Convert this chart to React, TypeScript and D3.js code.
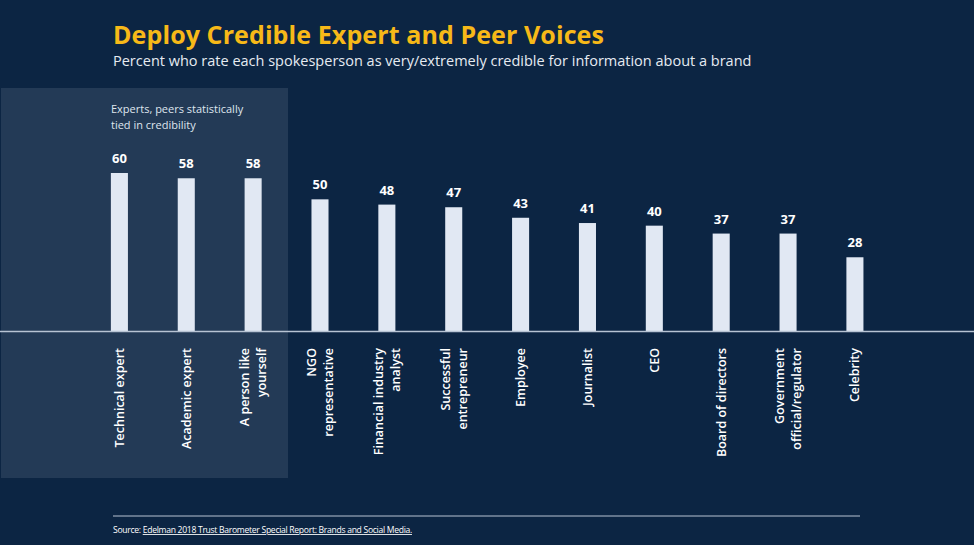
import React from "react";
import * as d3 from "d3";

const categories: string[][] = [
  ["Technical expert"],
  ["Academic expert"],
  ["A person like", "yourself"],
  ["NGO", "representative"],
  ["Financial industry", "analyst"],
  ["Successful", "entrepreneur"],
  ["Employee"],
  ["Journalist"],
  ["CEO"],
  ["Board of directors"],
  ["Government", "official/regulator"],
  ["Celebrity"],
];
const values: number[] = [60, 58, 58, 50, 48, 47, 43, 41, 40, 37, 37, 28];
const title = "Deploy Credible Expert and Peer Voices";
const subtitle = "Percent who rate each spokesperson as very/extremely credible for information about a brand";
const note = ["Experts, peers statistically", "tied in credibility"];
const sourceLabel = "Source: ";
const sourceLink = "Edelman 2018 Trust Barometer Special Report: Brands and Social Media.";

const W = 974;
const H = 545;
const FONT = "'Open Sans', 'Noto Sans', sans-serif";

export default function App() {
  const base = 331;
  const x = d3
    .scaleBand<number>()
    .domain(d3.range(values.length))
    .range([86, 86 + 66.86 * values.length])
    .paddingInner(0.745)
    .paddingOuter(0.372);
  const y = d3.scaleLinear().domain([0, 60]).range([base, 173]);
  const bw = x.bandwidth();

  return (
    <svg
      width={W}
      height={H}
      style={{ position: "absolute", left: 0, top: 0, fontFamily: FONT }}
    >
      <rect x={0} y={0} width={W} height={H} fill="#0c2543" />
      <rect x={1} y={88} width={287} height={390} fill="#233a56" />
      <text x={113} y={44} fill="#f7b918" fontSize={25} fontWeight={700} style={{ letterSpacing: "0.1px" }}>
        {title}
      </text>
      <text x={113} y={66} fill="#e6ebf2" fontSize={14.5}>
        {subtitle}
      </text>
      {note.map((t, i) => (
        <text key={i} x={111} y={113 + i * 16} fill="#dfe5ee" fontSize={11}>
          {t}
        </text>
      ))}
      {values.map((v, i) => {
        const cx = (x(i) as number) + bw / 2;
        const lines = categories[i];
        return (
          <g key={i}>
            <rect
              x={x(i)}
              y={y(v)}
              width={bw}
              height={base - y(v)}
              fill="#e1e8f3"
            />
            <text
              x={cx}
              y={y(v) - 10}
              textAnchor="middle"
              fill="#ffffff"
              fontSize={13}
              fontWeight={700}
            >
              {v}
            </text>
            <g transform={`translate(${cx},348) rotate(-90)`}>
              {lines.map((t, j) => (
                <text
                  key={j}
                  x={0}
                  y={(j - (lines.length - 1) / 2) * 17 + 4.5}
                  textAnchor="end"
                  fill="#ffffff"
                  fontSize={12.5}
                  fontWeight={600}
                >
                  {t}
                </text>
              ))}
            </g>
          </g>
        );
      })}
      <line x1={0} x2={W} y1={base + 0.5} y2={base + 0.5} stroke="#b7c3d3" strokeWidth={1.5} />
      <line x1={113} x2={860} y1={516} y2={516} stroke="#b7c3d3" strokeWidth={1} />
      <text x={113} y={533} fill="#ffffff" fontSize={8.6} style={{ letterSpacing: "-0.3px" }}>
        {sourceLabel}
        <tspan textDecoration="underline">{sourceLink}</tspan>
      </text>
    </svg>
  );
}
